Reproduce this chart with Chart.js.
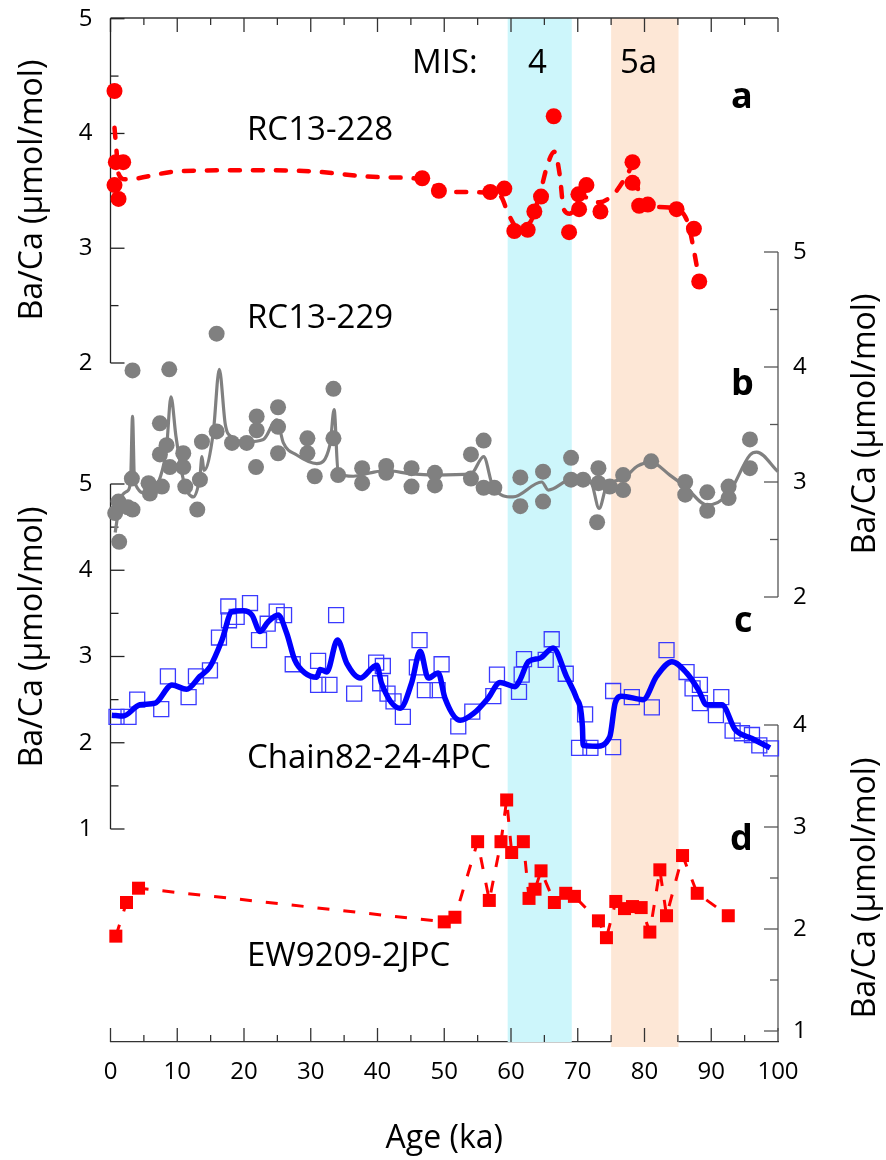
<!DOCTYPE html>
<html>
<head>
<meta charset="utf-8">
<script src="https://cdn.jsdelivr.net/npm/chart.js@4.4.1/dist/chart.umd.min.js"></script>
<style>
  html, body { margin: 0; padding: 0; background: #fff; }
  #wrap { width: 886px; height: 1160px; }
</style>
</head>
<body>
<div id="wrap"><canvas id="chart" width="886" height="1160"></canvas></div>
<script>
// ---- data (age in ka, Ba/Ca in umol/mol) ----

// a: RC13-228
var ageA = [0.6, 0.8, 0.6, 1.2, 1.9, 46.7, 49.2, 56.9, 59.0, 60.5, 62.5, 63.5, 64.5, 66.4, 68.7,
            70.1, 70.2, 71.3, 73.4, 78.2, 78.2, 79.2, 80.5, 84.8, 87.4, 88.2];
var baA = [4.37, 3.75, 3.55, 3.43, 3.75, 3.61, 3.50, 3.49, 3.52, 3.15, 3.16, 3.32, 3.45, 4.15, 3.14,
           3.47, 3.34, 3.55, 3.32, 3.75, 3.57, 3.37, 3.38, 3.34, 3.17, 2.71];
var ageAFit = [0.6, 0.9, 1.2, 2.2, 10, 20, 30, 40, 46.7, 50.5, 53.5, 57, 58.5, 59.6, 61, 62.8, 64.2,
               65.6, 66.5, 67.3, 67.9, 68.8, 70.7, 73.2, 75.5, 77.5, 78.3, 79.6, 81.7, 84.8, 86.5, 87.5, 88.2];
var baAFit = [4.05, 3.85, 3.65, 3.6, 3.67, 3.68, 3.67, 3.62, 3.6, 3.49, 3.49, 3.48, 3.45, 3.3, 3.18, 3.22, 3.45,
              3.75, 3.84, 3.64, 3.34, 3.3, 3.45, 3.4, 3.48, 3.65, 3.73, 3.36, 3.36, 3.34, 3.22, 2.95, 2.72];

// b: RC13-229
var ageB = [0.7, 1.2, 1.3, 2.6, 3.2, 3.3, 3.3, 5.7, 5.9, 7.4, 7.4, 7.7, 8.4, 8.8, 8.9,
            10.9, 10.9, 11.2, 13.0, 13.4, 13.7, 15.9, 15.9, 18.2, 20.4, 21.8, 21.9, 21.9,
            25.1, 25.1, 25.1, 29.5, 29.5, 30.6, 33.4, 33.4, 34.1, 37.7, 37.7,
            41.3, 41.3, 45.1, 45.1, 48.6, 48.6, 54.0, 54.0, 55.9, 55.9, 57.5,
            61.4, 61.4, 64.8, 64.8, 69.0, 69.0, 70.8, 72.9, 73.1, 73.1, 74.8,
            76.8, 76.8, 81.0, 86.1, 86.1, 89.4, 89.4, 92.6, 92.6, 95.8, 95.8];
var baB = [2.73, 2.83, 2.48, 2.78, 3.03, 3.97, 2.76, 2.99, 2.90, 3.51, 3.24, 2.96, 3.32, 3.98, 3.13,
           3.25, 3.13, 2.96, 2.76, 3.02, 3.35, 4.29, 3.44, 3.34, 3.34, 3.13, 3.57, 3.45,
           3.65, 3.48, 3.25, 3.38, 3.25, 3.05, 3.81, 3.38, 3.06, 3.12, 2.99,
           3.14, 3.08, 3.12, 2.96, 3.08, 2.97, 3.24, 3.03, 3.36, 2.95, 2.95,
           3.04, 2.79, 3.09, 2.83, 3.21, 3.02, 3.02, 2.65, 3.12, 2.99, 2.96,
           3.06, 2.93, 3.18, 3.00, 2.89, 2.91, 2.75, 2.96, 2.86, 3.12, 3.37];
var ageBFit = [0.7, 1.5, 2.5, 3.0, 3.3, 3.6, 5.5, 7.5, 8.4, 9.06, 9.8, 11.0, 12.4, 13.4, 13.7, 14.0,
               15.4, 16.3, 17.2, 18.2, 20.4, 22.9, 24.9, 25.9, 27.9, 30.9, 32.9, 33.5, 34.1, 36.4,
               38.9, 41.3, 45.1, 48.6, 54.0, 55.9, 57.3, 60.3, 64.6, 65.6, 69.0, 72.0, 73.2, 74.3,
               76.8, 79.0, 81.0, 83.8, 86.1, 89.4, 92.6, 95.8, 96.8, 100];
var baBFit = [2.56, 2.85, 2.92, 3.0, 3.57, 3.0, 2.9, 3.05, 3.3, 3.74, 3.4, 3.0, 2.87, 3.05, 3.22, 3.1,
              3.43, 3.98, 3.5, 3.39, 3.35, 3.37, 3.54, 3.34, 3.235, 3.16, 3.33, 3.63, 3.08, 3.05,
              3.08, 3.1, 3.07, 3.06, 3.07, 3.22, 2.96, 2.87, 3.0, 2.93, 3.02, 2.99, 2.77, 2.96,
              3.03, 3.14, 3.17, 3.06, 2.96, 2.8, 2.9, 3.235, 3.26, 3.09];

// c: Chain82-24-4PC
var ageC = [0.9, 2.7, 4.0, 7.6, 8.6, 11.7, 12.8, 14.9, 16.25, 17.65, 17.75, 18.9, 20.9, 22.25, 23.55,
            24.9, 26.0, 27.3, 31.1, 31.1, 32.8, 33.8, 36.5, 39.8, 40.4, 40.8, 41.5, 42.4, 43.8,
            45.9, 46.3, 47.1, 49.0, 49.6, 52.1, 54.2, 57.35, 57.9, 61.2, 61.6, 61.95, 65.2, 66.1,
            68.2, 70.2, 71.1, 71.9, 75.3, 75.3, 78.1, 81.1, 83.3, 86.3, 87.2, 88.3, 88.3, 90.7,
            91.5, 93.2, 94.6, 96.1, 97.2, 98.95];
var baC = [2.30, 2.30, 2.50, 2.39, 2.77, 2.53, 2.77, 2.84, 3.22, 3.58, 3.42, 3.46, 3.62, 3.19, 3.38,
           3.52, 3.48, 2.91, 2.95, 2.67, 2.67, 3.48, 2.57, 2.93, 2.69, 2.89, 2.57, 2.48, 2.30,
           2.875, 3.19, 2.61, 2.61, 2.91, 2.19, 2.36, 2.54, 2.79, 2.59, 2.79, 2.97, 2.96, 3.20,
           2.80, 1.94, 2.33, 1.94, 2.60, 1.95, 2.53, 2.41, 3.075, 2.82, 2.63, 2.67, 2.46, 2.32,
           2.53, 2.14, 2.11, 2.09, 1.97, 1.935];
var ageCFit = [0.2, 1.9, 4.4, 6.7, 9.2, 11.4, 13.4, 14.9, 16.7, 18.2, 19.9, 21.2, 22.4, 23.6, 25.1,
               26.4, 27.6, 29.1, 30.9, 31.4, 32.4, 34.0, 35.4, 37.4, 39.9, 40.6, 43.4, 45.1, 46.4,
               47.6, 49.1, 50.1, 52.4, 54.4, 56.6, 58.35, 60.6, 61.35, 62.6, 64.35, 66.3, 68.3,
               69.8, 70.7, 70.8, 72.8, 74.8, 75.6, 76.6, 79.8, 81.8, 84.1, 86.3, 88.1, 89.3, 91.6,
               93.6, 96.1, 98.8];
var baCFit = [2.32, 2.31, 2.44, 2.46, 2.67, 2.62, 2.77, 2.88, 3.19, 3.52, 3.53, 3.48, 3.29, 3.40, 3.48,
              3.27, 2.96, 2.81, 2.76, 2.85, 2.82, 3.19, 2.92, 2.75, 2.90, 2.69, 2.40, 2.69, 3.06,
              2.75, 2.81, 2.52, 2.26, 2.34, 2.52, 2.70, 2.65, 2.73, 2.94, 2.98, 3.10, 2.77,
              2.52, 2.19, 1.97, 1.96, 2.07, 2.46, 2.54, 2.50, 2.77, 2.94, 2.81, 2.61, 2.44, 2.44,
              2.15, 2.05, 1.94];

// d: EW9209-2JPC
var ageD = [0.8, 2.4, 4.2, 50.0, 51.6, 55.0, 56.75, 58.5, 59.35, 60.1, 61.85, 62.7, 63.6, 64.5, 66.5,
            68.2, 69.5, 73.1, 74.3, 75.7, 77.0, 78.2, 79.5, 80.8, 82.3, 83.3, 85.7, 87.9, 92.55];
var baD = [1.93, 2.26, 2.40, 2.07, 2.115, 2.856, 2.28, 2.856, 3.265, 2.75, 2.856, 2.30, 2.39, 2.57, 2.26,
           2.35, 2.32, 2.08, 1.915, 2.27, 2.20, 2.22, 2.21, 1.97, 2.58, 2.13, 2.72, 2.35, 2.13];

// axis ticks
var xTicks = [0, 10, 20, 30, 40, 50, 60, 70, 80, 90, 100];
var ticksA = [2, 3, 4, 5];
var ticksB = [2, 3, 4, 5];
var ticksC = [1, 2, 3, 4, 5];
var ticksD = [1, 2, 3, 4];

// marine isotope stage bands
var misNames = ['4', '5a'];
var misFrom = [59.5, 75.0];
var misTo = [69.1, 85.1];

// ---- layout ----
var FONT = "'Open Sans', sans-serif";
var PLOT = { left: 110.5, right: 778, top: 18, bottom: 1042 };

// every y axis spans the whole plot height; pick min/max so the
// labelled part of each axis lands on its own band of the figure
function span(vTop, pTop, vBot, pBot) {
    var k = (pBot - pTop) / (vTop - vBot);
    return { min: vBot - (PLOT.bottom - pBot) / k, max: vTop + (pTop - PLOT.top) / k };
}
var spanA = span(5, 18.7, 2, 363);
var spanB = span(5, 252, 2, 597);
var spanC = span(5, 484, 1, 829);
var spanD = span(4, 725, 1, 1031);

function pts(xs, ys) {
    return xs.map(function(x, i) { return { x: x, y: ys[i] }; });
}

// zero-width y axes; labels are mirrored and pushed back outside with the
// padding so they sit beside the axis without taking layout room
function yAxis(sp, ticks, side) {
    return {
        type: 'linear',
        position: side,
        min: sp.min,
        max: sp.max,
        afterBuildTicks: function(s) { s.ticks = ticks.map(function(v) { return { value: v }; }); },
        afterFit: function(s) {
            s.width = 0;
            s.paddingTop = 0;
            s.paddingBottom = 0;
        },
        grid: { display: false, drawTicks: false },
        border: { display: false },
        ticks: {
            autoSkip: false,
            mirror: true,
            crossAlign: 'far',
            padding: side === 'left' ? -31.7 : 28.7,
            color: '#000',
            font: { family: FONT, size: 24 },
            callback: function(v) { return String(v); }
        }
    };
}

var sideAxes = [
    { id: 'ya', ticks: ticksA, x: 'left', color: '#222' },
    { id: 'yb', ticks: ticksB, x: 'right', color: '#555' },
    { id: 'yc', ticks: ticksC, x: 'left', color: '#222' },
    { id: 'yd', ticks: ticksD, x: 'right', color: '#555' }
];

var axisTitles = [
    { x: 33, y: 190 },
    { x: 866, y: 424 },
    { x: 33, y: 637 },
    { x: 866, y: 888 }
];

var notes = [
    { text: 'MIS:', x: 412, y: 73, bold: false },
    { text: misNames[0], x: 528, y: 73, bold: false },
    { text: misNames[1], x: 620, y: 73, bold: false },
    { text: 'RC13-228', x: 247, y: 140, bold: false },
    { text: 'RC13-229', x: 247, y: 328, bold: false },
    { text: 'Chain82-24-4PC', x: 247, y: 768, bold: false },
    { text: 'EW9209-2JPC', x: 247, y: 966, bold: false },
    { text: 'a', x: 731, y: 108, bold: true },
    { text: 'b', x: 731, y: 395, bold: true },
    { text: 'c', x: 734, y: 632, bold: true },
    { text: 'd', x: 730, y: 850, bold: true }
];

var bandColors = ['#cdf6fb', '#fde7d6'];

function seg(ctx, x0, y0, x1, y1) {
    ctx.beginPath();
    ctx.moveTo(x0, y0);
    ctx.lineTo(x1, y1);
    ctx.stroke();
}

var framePlugin = {
    id: 'frame',
    beforeDatasetsDraw: function(chart) {
        var ctx = chart.ctx, xs = chart.scales.x, area = chart.chartArea;
        ctx.save();
        // MIS bands
        misFrom.forEach(function(f, i) {
            var x0 = xs.getPixelForValue(f), x1 = xs.getPixelForValue(misTo[i]);
            ctx.fillStyle = bandColors[i];
            ctx.fillRect(x0, area.top, x1 - x0, area.bottom - area.top + (i === 1 ? 5 : 0));
        });

        // top and bottom age axes, ticks pointing inward
        ctx.lineWidth = 1.3;
        ctx.strokeStyle = '#333';
        seg(ctx, area.left, area.top, area.right, area.top);
        for (var a = 0; a <= 100; a += 5) {
            var px = xs.getPixelForValue(a);
            var len = a % 10 === 0 ? 14 : 7;
            seg(ctx, px, area.top, px, area.top + len);
            seg(ctx, px, area.bottom, px, area.bottom - len);
        }

        // the four Ba/Ca axes
        sideAxes.forEach(function(ax) {
            var s = chart.scales[ax.id];
            var lo = ax.ticks[0], hi = ax.ticks[ax.ticks.length - 1];
            var x = ax.x === 'left' ? area.left : area.right;
            var dir = ax.x === 'left' ? 1 : -1;
            ctx.strokeStyle = ax.color;
            seg(ctx, x, s.getPixelForValue(hi), x, s.getPixelForValue(lo));
            for (var v = lo; v <= hi + 1e-9; v += 0.5) {
                var py = s.getPixelForValue(v);
                var l = Math.abs(v - Math.round(v)) < 1e-9 ? 14 : 8;
                seg(ctx, x, py, x + dir * l, py);
            }
        });
        ctx.restore();
    },
    afterDraw: function(chart) {
        var ctx = chart.ctx;
        ctx.save();
        ctx.fillStyle = '#000';
        // rotated axis titles
        axisTitles.forEach(function(t) {
            ctx.save();
            ctx.translate(t.x, t.y);
            ctx.rotate(-Math.PI / 2);
            ctx.font = '32px ' + FONT;
            ctx.textAlign = 'center';
            ctx.textBaseline = 'middle';
            ctx.fillText('Ba/Ca (\u00b5mol/mol)', 0, 0);
            ctx.restore();
        });
        // labels inside the plot
        ctx.textAlign = 'left';
        ctx.textBaseline = 'alphabetic';
        notes.forEach(function(n) {
            ctx.font = (n.bold ? 'bold 36px ' : '33px ') + FONT;
            ctx.fillText(n.text, n.x, n.y);
        });
        ctx.restore();
    }
};

Chart.defaults.font.family = FONT;

new Chart(document.getElementById('chart'), {
    type: 'scatter',
    data: {
        datasets: [
            {
                label: 'Chain82-24-4PC smooth',
                data: pts(ageCFit, baCFit),
                yAxisID: 'yc',
                showLine: true,
                borderColor: '#0000ff',
                borderWidth: 5.5,
                pointRadius: 0,
                cubicInterpolationMode: 'monotone',
                clip: false
            },
            {
                label: 'Chain82-24-4PC',
                data: pts(ageC, baC),
                yAxisID: 'yc',
                pointStyle: 'rect',
                pointRadius: 10.6,
                pointBorderWidth: 1.3,
                borderColor: '#3a3aff',
                backgroundColor: 'rgba(0,0,0,0)',
                clip: false
            },
            {
                label: 'RC13-228',
                data: pts(ageA, baA),
                yAxisID: 'ya',
                pointRadius: 8,
                pointBorderWidth: 0,
                backgroundColor: '#ff0000',
                borderColor: '#ff0000',
                clip: false
            },
            {
                label: 'RC13-228 smooth',
                data: pts(ageAFit, baAFit),
                yAxisID: 'ya',
                showLine: true,
                borderColor: '#ff0000',
                borderWidth: 4.5,
                borderDash: [10, 13],
                borderCapStyle: 'round',
                pointRadius: 0,
                cubicInterpolationMode: 'monotone',
                clip: false
            },
            {
                label: 'RC13-229',
                data: pts(ageB, baB),
                yAxisID: 'yb',
                pointRadius: 8,
                pointBorderWidth: 0,
                backgroundColor: '#808080',
                borderColor: '#808080',
                clip: false
            },
            {
                label: 'RC13-229 smooth',
                data: pts(ageBFit, baBFit),
                yAxisID: 'yb',
                showLine: true,
                borderColor: '#808080',
                borderWidth: 3.2,
                pointRadius: 0,
                cubicInterpolationMode: 'monotone',
                clip: false
            },
            {
                label: 'EW9209-2JPC',
                data: pts(ageD, baD),
                yAxisID: 'yd',
                showLine: true,
                borderColor: '#ff0000',
                borderWidth: 3,
                borderDash: [12, 14],
                backgroundColor: '#ff0000',
                pointStyle: 'rect',
                pointRadius: 9.2,
                pointBorderWidth: 0,
                tension: 0,
                clip: false
            }
        ]
    },
    options: {
        responsive: false,
        animation: false,
        events: [],
        layout: { padding: { left: PLOT.left, right: 886 - PLOT.right, top: PLOT.top, bottom: 0 } },
        plugins: {
            legend: { display: false },
            tooltip: { enabled: false }
        },
        scales: {
            x: {
                type: 'linear',
                position: 'bottom',
                min: 0,
                max: 100,
                afterBuildTicks: function(s) { s.ticks = xTicks.map(function(v) { return { value: v }; }); },
                afterFit: function(s) { s.height = 1160 - PLOT.bottom; },
                grid: { display: false, drawTicks: false },
                border: { display: true, color: '#333', width: 1.3 },
                ticks: {
                    autoSkip: false,
                    maxRotation: 0,
                    padding: 16,
                    color: '#000',
                    font: { family: FONT, size: 24 }
                },
                title: {
                    display: true,
                    text: 'Age (ka)',
                    color: '#000',
                    font: { family: FONT, size: 32 },
                    padding: { top: 0, bottom: 2 }
                }
            },
            ya: yAxis(spanA, ticksA, 'left'),
            yb: yAxis(spanB, ticksB, 'right'),
            yc: yAxis(spanC, ticksC, 'left'),
            yd: yAxis(spanD, ticksD, 'right')
        }
    },
    plugins: [framePlugin]
});
</script>
</body>
</html>
